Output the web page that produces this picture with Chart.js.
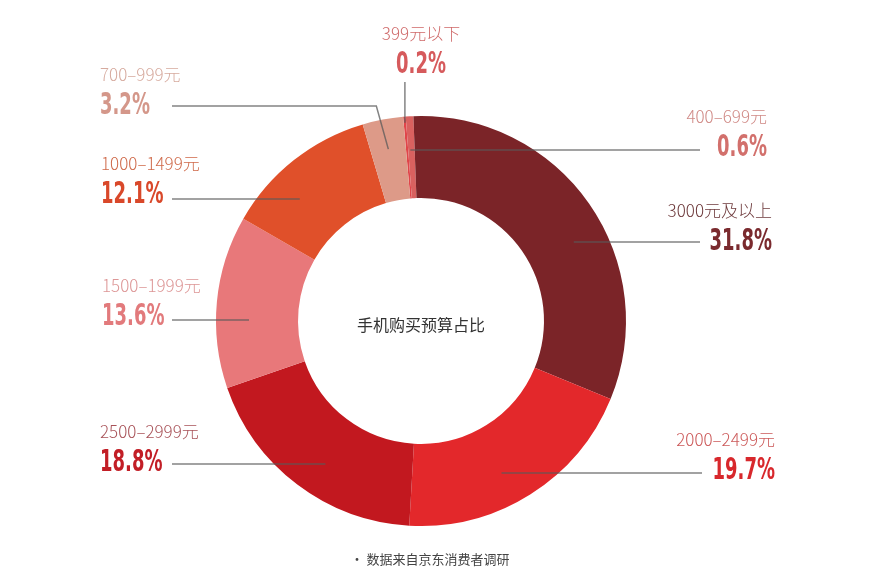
<!DOCTYPE html>
<html>
<head>
<meta charset="utf-8">
<script src="https://cdn.jsdelivr.net/npm/chart.js@4/dist/chart.umd.min.js"></script>
<style>
  html, body { margin: 0; padding: 0; background: #fff; }
  #wrap { width: 892px; height: 579px; position: relative; }
</style>
</head>
<body>
<div id="wrap"><canvas id="budgetChart" width="892" height="579"></canvas></div>
<script>
// Data (clockwise from the top)
const categories = ['399元以下', '400–699元', '3000元及以上', '2000–2499元', '2500–2999元', '1500–1999元', '1000–1499元', '700–999元'];
const shares = [0.2, 0.6, 31.8, 19.7, 18.8, 13.6, 12.1, 3.2];
const sliceColors = ['#e0454a', '#d9615f', '#7b2428', '#e3282b', '#c2181f', '#e8787a', '#e0502a', '#dd9a88'];
const labelColors = ['#cf6a6a', '#d08a86', '#6e3a3c', '#cc5a5a', '#a85258', '#dd9696', '#cf6a4a', '#d6aa9e'];
const pctColors = ['#d65a5c', '#d2706c', '#7a2a2e', '#d8282c', '#c21e26', '#e27a7c', '#d9482a', '#d4978a'];

// where each label sits: x, y of the category line, alignment, leader style
const labelSpots = [
  { x: 421, y: 34, align: 'center', leader: 'vertical' },
  { x: 767, y: 117, align: 'right', leader: 'h', lineY: 150, lineEnd: 700 },
  { x: 772, y: 211, align: 'right', leader: 'h', lineY: 242, lineEnd: 700 },
  { x: 775, y: 440, align: 'right', leader: 'h', lineY: 473, lineEnd: 702 },
  { x: 100, y: 432, align: 'left', leader: 'h', lineY: 464, lineEnd: 172 },
  { x: 102, y: 286, align: 'left', leader: 'h', lineY: 320, lineEnd: 172 },
  { x: 101, y: 164, align: 'left', leader: 'h', lineY: 199, lineEnd: 172 },
  { x: 100, y: 75, align: 'left', leader: 'bent', lineY: 106, lineEnd: 172 }
];

// narrow bold numbers, squeezed horizontally
function drawNarrow(ctx, text, x, y, align) {
  const sx = 0.6;
  ctx.save();
  ctx.translate(x, y);
  ctx.scale(sx, 1);
  ctx.textAlign = align;
  ctx.fillText(text, 0, 0);
  ctx.restore();
}

const labelPlugin = {
  id: 'budgetLabels',
  afterDraw(chart) {
    const ctx = chart.ctx;
    const arcs = chart.getDatasetMeta(0).data;
    ctx.save();
    arcs.forEach((arc, i) => {
      const spot = labelSpots[i];
      const cx = arc.x, cy = arc.y;
      const midR = (arc.innerRadius + arc.outerRadius) / 2;
      const midA = (arc.startAngle + arc.endAngle) / 2;
      ctx.textAlign = spot.align;
      ctx.textBaseline = 'middle';
      ctx.fillStyle = labelColors[i];
      ctx.font = '300 17px "Noto Sans CJK SC", "Noto Sans", sans-serif';
      ctx.fillText(categories[i], spot.x, spot.y);
      ctx.fillStyle = pctColors[i];
      ctx.font = 'bold 30px "DejaVu Sans", sans-serif';
      drawNarrow(ctx, shares[i].toFixed(1) + '%', spot.x, spot.y + 31, spot.align);

      ctx.strokeStyle = 'rgba(90,90,90,0.75)';
      ctx.lineWidth = 1.5;
      ctx.beginPath();
      if (spot.leader === 'vertical') {
        const px = cx + Math.cos(midA) * (arc.outerRadius - 6);
        ctx.moveTo(px, spot.y + 48);
        ctx.lineTo(px, cy + Math.sin(midA) * (arc.outerRadius - 6));
      } else if (spot.leader === 'bent') {
        const r = arc.outerRadius - 30;
        const px = cx + Math.cos(midA) * r, py = cy + Math.sin(midA) * r;
        ctx.moveTo(spot.lineEnd, spot.lineY);
        ctx.lineTo(px - 12, spot.lineY);
        ctx.lineTo(px, py);
      } else {
        const R = midR + 8;
        const dy = spot.lineY - cy;
        const side = spot.align === 'left' ? -1 : 1;
        let px;
        if (Math.abs(dy) < R) {
          px = cx + side * Math.sqrt(R * R - dy * dy);
        } else {
          px = cx + Math.cos(midA) * midR;
        }
        if (i === 1) px = cx + Math.cos(midA) * (arc.outerRadius - 14);
        ctx.moveTo(px, spot.lineY);
        ctx.lineTo(spot.lineEnd, spot.lineY);
      }
      ctx.stroke();
    });

    // centre title and footnote
    const c = arcs[0];
    ctx.textAlign = 'center';
    ctx.textBaseline = 'middle';
    ctx.fillStyle = '#333';
    ctx.font = '16px "Noto Sans CJK SC", sans-serif';
    ctx.fillText('手机购买预算占比', c.x, c.y + 4);
    ctx.fillStyle = '#444';
    ctx.font = '13px "Noto Sans CJK SC", sans-serif';
    ctx.fillText('• 数据来自京东消费者调研', 430, 559);
    ctx.restore();
  }
};

const ctx = document.getElementById('budgetChart').getContext('2d');
const budgetChart = new Chart(ctx, {
    type: 'doughnut',
    data: {
        labels: categories,
        datasets: [{
            data: shares,
            backgroundColor: sliceColors,
            borderWidth: 0
        }]
    },
    options: {
        responsive: false,
        animation: false,
        cutout: '60%',
        rotation: -5,
        layout: { padding: { top: 116, bottom: 53, left: 216, right: 266 } },
        plugins: {
            legend: { display: false },
            tooltip: { enabled: false }
        }
    },
    plugins: [labelPlugin]
});
</script>
</body>
</html>
